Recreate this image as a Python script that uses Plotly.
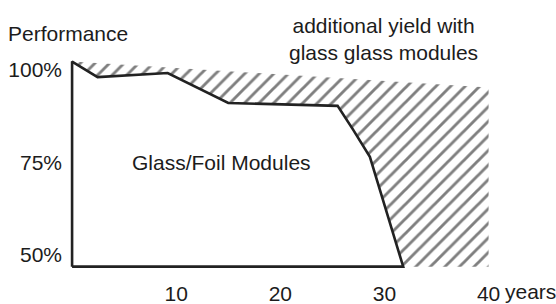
import plotly.graph_objects as go

# Glass/foil module performance curve (years, % performance)
foil_years = [0, 2.45, 9.18, 15.0, 25.5, 27.0, 28.6, 31.8]
foil_perf = [102.3, 98.1, 99.2, 91.1, 90.3, 83.8, 76.5, 46.76]

# Glass/glass module upper boundary
glass_years = [0, 40]
glass_perf = [102.3, 95.3]

axis_floor = 46.76
end_year = 40

x_ticks = [10, 20, 30, 40]
x_tick_text = ["10", "20", "30", "40"]
y_ticks = [50, 75, 100]
y_tick_text = ["50%", "75%", "100%"]

FONT = "Liberation Sans, Arial, sans-serif"
INK = "#1c1c1c"

fig = go.Figure()

# lower boundary of hatched area (glass/foil curve then along the floor)
fig.add_trace(go.Scatter(
    x=foil_years + [end_year], y=foil_perf + [axis_floor],
    mode="lines", line=dict(width=0, color="rgba(0,0,0,0)"),
    hoverinfo="skip", showlegend=False))

# upper boundary, filled with hatch down to the previous trace
fig.add_trace(go.Scatter(
    x=glass_years, y=glass_perf,
    mode="lines", line=dict(width=0, color="rgba(0,0,0,0)"),
    fill="tonexty", fillcolor="rgba(255,255,255,0)",
    fillpattern=dict(shape="/", fgcolor="#000000", bgcolor="rgba(255,255,255,0)",
                     size=10.3, solidity=0.28),
    hoverinfo="skip", showlegend=False))

# glass/foil outline (closed polygon with axes)
fig.add_trace(go.Scatter(
    x=[0] + foil_years + [0], y=[axis_floor] + foil_perf + [axis_floor],
    mode="lines", line=dict(width=2.6, color="#222222"),
    fill="toself", fillcolor="white",
    hoverinfo="skip", showlegend=False))

fig.add_annotation(x=-0.1503, y=1.1236, xref="paper", yref="paper", text="Performance",
                   showarrow=False, xanchor="left", yanchor="middle",
                   font=dict(size=21, color=INK, family=FONT))
fig.add_annotation(x=0.7319, y=1.0974, xref="paper", yref="paper",
                   text="additional yield with<br>glass glass modules",
                   showarrow=False, xanchor="center", yanchor="middle",
                   font=dict(size=21, color=INK, family=FONT))
fig.add_annotation(x=14.35, y=74.9, xref="x", yref="y", text="Glass/Foil Modules",
                   showarrow=False, xanchor="center", yanchor="middle",
                   font=dict(size=21, color=INK, family=FONT))
fig.add_annotation(x=1.1379, y=-0.112, xref="paper", yref="paper", text="years",
                   showarrow=False, xanchor="right", yanchor="middle",
                   font=dict(size=21, color=INK, family=FONT))

fig.update_xaxes(range=[-0.2, 41], showline=False, showgrid=False, zeroline=False,
                 ticks="", tickvals=x_ticks, ticktext=x_tick_text, ticklabelstandoff=11,
                 automargin=False,
                 tickfont=dict(size=21, color=INK, family=FONT), fixedrange=True)
fig.update_yaxes(range=[46.4, 103], showline=False, showgrid=False, zeroline=False,
                 ticks="", tickvals=y_ticks, ticktext=y_tick_text, ticklabelstandoff=7,
                 automargin=False,
                 tickfont=dict(size=21, color=INK, family=FONT), fixedrange=True)

fig.update_layout(
    width=556, height=304,
    margin=dict(l=70.4, r=57.1, t=58.9, b=35.7),
    paper_bgcolor="white", plot_bgcolor="white",
    showlegend=False,
    font=dict(family=FONT, color=INK),
)

fig.write_html("out.html", config={"displayModeBar": False},
               post_script="document.body.style.margin='0';")
